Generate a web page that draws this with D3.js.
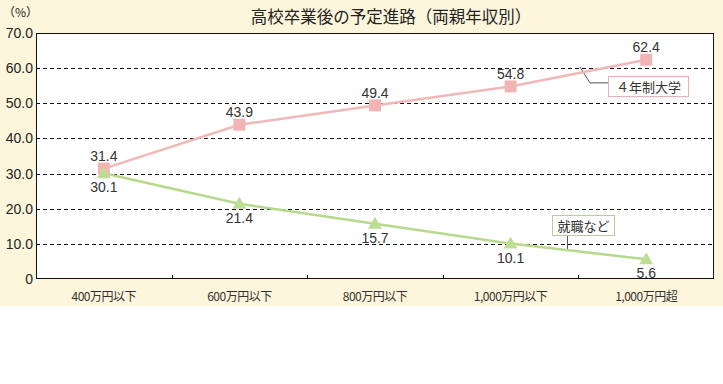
<!doctype html>
<html>
<head>
<meta charset="utf-8">
<title>高校卒業後の予定進路（両親年収別）</title>
<script src="https://d3js.org/d3.v7.min.js"></script>
<style>
  html, body { margin: 0; padding: 0; background: #fff; }
  .num { font-family: "Liberation Sans", Arial, sans-serif; }
  .jp { font-family: "Noto Sans CJK JP", sans-serif; }
</style>
</head>
<body>
<script>
// data
var categories = ["400万円以下", "600万円以下", "800万円以下", "1,000万円以下", "1,000万円超"];
var univ = [31.4, 43.9, 49.4, 54.8, 62.4];
var work = [30.1, 21.4, 15.7, 10.1, 5.6];
var yTicks = [0, 10, 20, 30, 40, 50, 60, 70];

var W = 723, H = 384;
var margin = {top: 33, right: 9, bottom: 105, left: 36};
var width = W - margin.left - margin.right,
    height = H - margin.top - margin.bottom;

var svg = d3.select("body").append("svg")
    .attr("width", W)
    .attr("height", H);

// cream panel
svg.append("rect")
    .attr("width", W).attr("height", 306)
    .attr("fill", "#fdf6dc");

svg.append("text")
    .attr("class", "jp")
    .attr("x", 391).attr("y", 23)
    .attr("text-anchor", "middle")
    .attr("font-size", 16.5)
    .attr("fill", "#222")
    .text("高校卒業後の予定進路（両親年収別）");

svg.append("text")
    .attr("class", "jp")
    .attr("x", 3).attr("y", 17)
    .attr("font-size", 12)
    .attr("fill", "#222")
    .text("（%）");

var g = svg.append("g")
    .attr("transform", "translate(" + margin.left + "," + margin.top + ")");

var x = d3.scaleBand().domain(categories).range([0, width]);
var y = d3.scaleLinear().domain([0, 70]).range([height, 0]);

g.append("rect")
    .attr("width", width).attr("height", height)
    .attr("fill", "#fff");

// dashed grid
g.selectAll(".grid")
    .data(yTicks.filter(function(d) { return d > 0 && d < 70; }))
    .enter().append("line")
    .attr("x1", 0).attr("x2", width)
    .attr("y1", function(d) { return Math.round(y(d)) + 0.5; })
    .attr("y2", function(d) { return Math.round(y(d)) + 0.5; })
    .attr("stroke", "#111")
    .attr("stroke-dasharray", "4,3");

// y labels
g.selectAll(".ylab")
    .data(yTicks)
    .enter().append("text")
    .attr("class", "num")
    .attr("x", -3)
    .attr("y", function(d) { return y(d); })
    .attr("dy", "0.36em")
    .attr("text-anchor", "end")
    .attr("font-size", 14)
    .attr("fill", "#222")
    .text(function(d) { return d === 0 ? "0" : d.toFixed(1); });

// category boundary ticks (inward)
g.selectAll(".xtick")
    .data(categories.slice(1))
    .enter().append("line")
    .attr("x1", function(d) { return Math.round(x(d)) + 0.5; })
    .attr("x2", function(d) { return Math.round(x(d)) + 0.5; })
    .attr("y1", height).attr("y2", height - 4)
    .attr("stroke", "#111");

g.selectAll(".xlab")
    .data(categories)
    .enter().append("text")
    .attr("class", "jp")
    .attr("x", function(d) { return x(d) + x.bandwidth() / 2; })
    .attr("y", height + 22)
    .attr("text-anchor", "middle")
    .attr("font-size", 12)
    .attr("letter-spacing", "-0.5")
    .attr("fill", "#333")
    .text(function(d) { return d; });

// frame
g.append("rect")
    .attr("x", 0.5).attr("y", 0.5)
    .attr("width", width - 1).attr("height", height - 1)
    .attr("fill", "none")
    .attr("stroke", "#111");

var cx = function(d, i) { return x(categories[i]) + x.bandwidth() / 2; };

var line = d3.line()
    .x(function(d, i) { return cx(d, i); })
    .y(function(d) { return y(d); });

// leader lines + label boxes
g.append("polyline")
    .attr("points", [[544, y(60.3)], [554, y(55.8)], [572, y(55.8)]].map(function(p) { return p.join(","); }).join(" "))
    .attr("fill", "none").attr("stroke", "#555");
g.append("line")
    .attr("x1", 531.5).attr("x2", 531.5)
    .attr("y1", y(12.5)).attr("y2", y(8.5))
    .attr("stroke", "#555");

g.append("path")
    .datum(univ)
    .attr("d", line)
    .attr("fill", "none")
    .attr("stroke", "#f2b8b8")
    .attr("stroke-width", 2.5);

g.append("path")
    .datum(work)
    .attr("d", line)
    .attr("fill", "none")
    .attr("stroke", "#b7d98b")
    .attr("stroke-width", 2.5);

g.selectAll(".sq")
    .data(univ)
    .enter().append("rect")
    .attr("x", function(d, i) { return cx(d, i) - 6; })
    .attr("y", function(d) { return y(d) - 6; })
    .attr("width", 12).attr("height", 12)
    .attr("fill", "#f4b4b6");

g.selectAll(".tri")
    .data(work)
    .enter().append("path")
    .attr("transform", function(d, i) { return "translate(" + cx(d, i) + "," + y(d) + ")"; })
    .attr("d", "M0,-7L7,5L-7,5Z")
    .attr("fill", "#bcdd94");

g.selectAll(".ulab")
    .data(univ)
    .enter().append("text")
    .attr("class", "num")
    .attr("x", function(d, i) { return cx(d, i); })
    .attr("y", function(d) { return y(d) - 12.5; })
    .attr("dy", "0.36em")
    .attr("text-anchor", "middle")
    .attr("font-size", 14)
    .attr("fill", "#333")
    .text(function(d) { return d.toFixed(1); });

g.selectAll(".wlab")
    .data(work)
    .enter().append("text")
    .attr("class", "num")
    .attr("x", function(d, i) { return cx(d, i); })
    .attr("y", function(d) { return y(d) + 14; })
    .attr("dy", "0.36em")
    .attr("text-anchor", "middle")
    .attr("font-size", 14)
    .attr("fill", "#333")
    .text(function(d) { return d.toFixed(1); });

// series name boxes
g.append("rect")
    .attr("x", 572.5).attr("y", 43.5)
    .attr("width", 80).attr("height", 20)
    .attr("fill", "#fff").attr("stroke", "#e8b0b0");
g.append("text")
    .attr("class", "jp")
    .attr("x", 612.5).attr("y", 54)
    .attr("dy", "0.36em")
    .attr("text-anchor", "middle")
    .attr("font-size", 13)
    .attr("fill", "#333")
    .text("４年制大学");

g.append("rect")
    .attr("x", 516.5).attr("y", 182.5)
    .attr("width", 62).attr("height", 20)
    .attr("fill", "#fff").attr("stroke", "#b9c9a0");
g.append("text")
    .attr("class", "jp")
    .attr("x", 547.5).attr("y", 193)
    .attr("dy", "0.36em")
    .attr("text-anchor", "middle")
    .attr("font-size", 13)
    .attr("fill", "#333")
    .text("就職など");
</script>
</body>
</html>
